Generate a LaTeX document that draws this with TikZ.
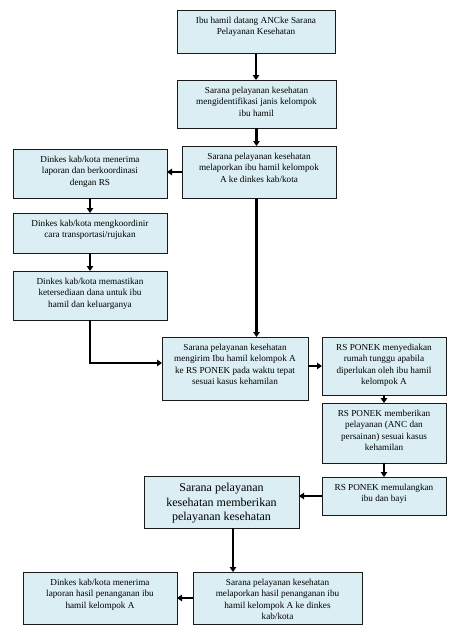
\documentclass[tikz,border=0pt]{standalone}
\usepackage{fontspec}
\setmainfont{Liberation Serif}
\usetikzlibrary{arrows.meta}
\definecolor{boxfill}{HTML}{DBEEF3}
\definecolor{boxline}{HTML}{1A1A1A}
\newcommand{\bxt}[3]{\parbox[b][#2pt][t]{#1pt}{\centering\fontsize{9.2}{11.3}\selectfont\rule{0pt}{13.5pt}#3}}
\newcommand{\bxbig}[3]{\parbox[b][#2pt][t]{#1pt}{\centering\fontsize{12}{14.5}\selectfont\rule{0pt}{15.5pt}#3}}
\tikzset{
  box/.style={draw=boxline, fill=boxfill, line width=0.9pt, anchor=north west, inner sep=0pt, outer sep=0pt},
  arr/.style={line width=2.2pt, draw=black, -{Triangle[length=5pt,width=6.5pt]}},
}
\begin{document}
\begin{tikzpicture}[x=1pt,y=-1pt]
\useasboundingbox (0,0) rectangle (452,634);
\node[box] (b1) at (177,10) {\bxt{158}{43}{Ibu hamil datang ANCke Sarana\\Pelayanan Kesehatan}};
\node[box] (b2) at (177,80) {\bxt{159}{48}{Sarana pelayanan kesehatan\\mengidentifikasi janis kelompok\\ibu hamil}};
\node[box] (b3) at (182,146) {\bxt{154}{52}{Sarana pelayanan kesehatan\\melaporkan ibu hamil kelompok\\A ke dinkes kab/kota}};
\node[box] (l1) at (13,149) {\bxt{154}{49}{Dinkes kab/kota menerima\\laporan dan berkoordinasi\\dengan RS}};
\node[box] (l2) at (13,213) {\bxt{154}{40}{Dinkes kab/kota mengkoordinir\\cara transportasi/rujukan}};
\node[box] (l3) at (13,271) {\bxt{154}{49}{Dinkes kab/kota memastikan\\ketersediaan dana untuk ibu\\hamil dan keluarganya}};
\node[box] (m) at (162,337) {\bxt{146}{63}{Sarana pelayanan kesehatan\\mengirim Ibu hamil kelompok A\\ke RS PONEK pada waktu tepat\\sesuai kasus kehamilan}};
\node[box] (r1) at (322,337) {\bxt{124}{58}{RS PONEK menyediakan\\rumah tunggu apabila\\diperlukan oleh ibu hamil\\kelompok A}};
\node[box] (r2) at (322,403) {\bxt{124}{60}{RS PONEK memberikan\\pelayanan (ANC dan\\persainan) sesuai kasus\\kehamilan}};
\node[box] (r3) at (322,477) {\bxt{124}{38}{RS PONEK memulangkan\\ibu dan bayi}};
\node[box] (s) at (144,476) {\bxbig{155}{52}{Sarana pelayanan\\kesehatan memberikan\\pelayanan kesehatan}};
\node[box] (c2) at (193,572) {\bxt{169}{52}{Sarana pelayanan kesehatan\\melaporkan hasil penanganan ibu\\hamil kelompok A ke dinkes\\kab/kota}};
\node[box] (c1) at (23,572) {\bxt{154}{52}{Dinkes kab/kota menerima\\laporan hasil penanganan ibu\\hamil kelompok A}};
\coordinate (mj) at (162,363);
\coordinate (sb) at (233,528);
\draw[arr] (b1.south) -- (b1.south |- b2.north);
\draw[arr] (b2.south) -- (b2.south |- b3.north);
\draw[arr] (b3.west) -- (l1.east |- b3.west);
\draw[arr] (l1.south) -- (l1.south |- l2.north);
\draw[arr] (l2.south) -- (l2.south |- l3.north);
\draw[arr] (l3.south) |- (mj);
\draw[arr] (b2.south |- b3.south) -- (b2.south |- m.north);
\draw[arr] (m.east |- r1.west) -- (r1.west);
\draw[arr] (r1.south) -- (r2.north);
\draw[arr] (r2.south) -- (r3.north);
\draw[arr] (r3.west) -- (s.east |- r3.west);
\draw[arr] (sb) -- (sb |- c2.north);
\draw[arr] (c2.west) -- (c1.east |- c2.west);
\end{tikzpicture}
\end{document}
